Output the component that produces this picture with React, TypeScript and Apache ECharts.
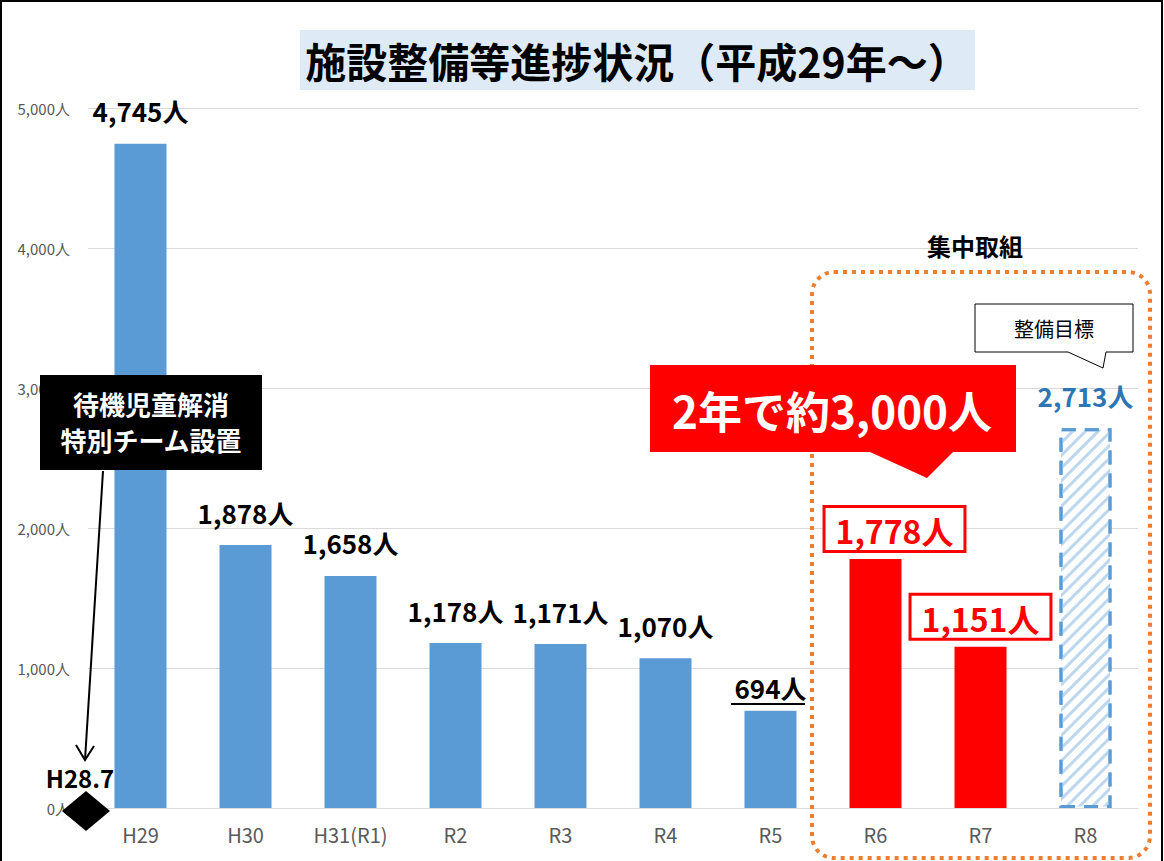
import React, { useEffect, useRef } from "react";
import * as echarts from "echarts";

const categories = ["H29", "H30", "H31(R1)", "R2", "R3", "R4", "R5", "R6", "R7", "R8"];
const values = [4745, 1878, 1658, 1178, 1171, 1070, 694, 1778, 1151, 2713];
const focusCategories = ["R6", "R7"];
const targetCategory = "R8";
const underlinedCategory = "R5";
const yTicks = { min: 0, max: 5000, interval: 1000 };
const titleText = "施設整備等進捗状況（平成29年〜）";

const FONT = "'Noto Sans CJK JP', 'Noto Sans', sans-serif";
const BLUE = "#5b9bd5";
const RED = "#ff0000";

const fmt = (v: number) => v.toLocaleString("en-US") + "人";

export default function App() {
  const ref = useRef<HTMLDivElement>(null);
  useEffect(() => {
    if (!ref.current) return;
    const chart = echarts.init(ref.current, null, { renderer: "svg" });

    const data = categories.map((c, i) => {
      const v = values[i];
      if (focusCategories.includes(c)) {
        return {
          value: v,
          itemStyle: { color: RED },
          label: {
            color: RED,
            fontSize: 32,
            fontWeight: "bold",
            backgroundColor: "#ffffff",
            borderColor: RED,
            borderWidth: 3,
            padding: [6, 10, 4, 10],
            distance: 9,
            offset: c === "R6" ? [19, 0] : [0, 0],
          },
        };
      }
      if (c === targetCategory) {
        return {
          value: v,
          itemStyle: {
            color: "#ffffff",
            borderColor: BLUE,
            borderWidth: 3,
            borderType: [14, 9],
            decal: {
              symbol: "rect",
              symbolSize: 1,
              dashArrayX: [1, 0],
              dashArrayY: [3, 6],
              rotation: -Math.PI / 4,
              color: "#bdd7ee",
              backgroundColor: "#ffffff",
            },
          },
          label: { color: "#2e75b6", distance: 20 },
        };
      }
      if (c === underlinedCategory) {
        return { value: v, itemStyle: { color: BLUE }, label: { distance: 10 } };
      }
      return { value: v, itemStyle: { color: BLUE } };
    });

    const option: any = {
      animation: false,
      backgroundColor: "#ffffff",
      textStyle: { fontFamily: FONT },
      grid: { left: 88, right: 26, top: 108, bottom: 53 },
      xAxis: {
        type: "category",
        data: categories,
        axisLine: { lineStyle: { color: "#d9d9d9", width: 1 } },
        axisTick: { show: false },
        axisLabel: { color: "#595959", fontSize: 20, margin: 16, fontFamily: FONT },
      },
      yAxis: {
        type: "value",
        min: yTicks.min,
        max: yTicks.max,
        interval: yTicks.interval,
        axisLine: { show: false },
        axisTick: { show: false },
        splitLine: { lineStyle: { color: "#d9d9d9", width: 1 } },
        axisLabel: {
          color: "#595959",
          fontSize: 15,
          margin: 18,
          fontFamily: FONT,
          formatter: (v: number) => fmt(v),
        },
      },
      series: [
        {
          type: "bar",
          data,
          barWidth: 52,
          z: 2,
          label: {
            show: true,
            position: "top",
            distance: 20,
            color: "#000000",
            fontSize: 26,
            fontWeight: "bold",
            fontFamily: FONT,
            formatter: (p: any) => fmt(p.value),
          },
        },
      ],
      graphic: [
        {
          type: "rect",
          z: 1,
          shape: { x: 1, y: 1, width: 1161, height: 870 },
          style: { fill: "none", stroke: "#000000", lineWidth: 2 },
        },
        {
          type: "rect",
          z: 100,
          shape: { x: 300, y: 30, width: 675, height: 60 },
          style: { fill: "#deebf7" },
        },
        {
          type: "text",
          z: 101,
          x: 637,
          y: 60,
          style: {
            text: titleText,
            font: `bold 41px ${FONT}`,
            fill: "#000000",
            align: "center",
            verticalAlign: "middle",
          },
        },
        {
          type: "text",
          z: 101,
          x: 975,
          y: 245,
          style: {
            text: "集中取組",
            font: `bold 24px ${FONT}`,
            fill: "#000000",
            align: "center",
            verticalAlign: "middle",
          },
        },
        {
          type: "rect",
          z: 100,
          shape: { x: 812, y: 272, width: 338, height: 586, r: 22 },
          style: { fill: "none", stroke: "#ed7d31", lineWidth: 4, lineDash: [4, 5] },
        },
        {
          type: "polygon",
          z: 100,
          shape: {
            points: [
              [975, 304],
              [1133, 304],
              [1133, 352],
              [1106, 352],
              [1103, 368],
              [1068, 352],
              [975, 352],
            ],
          },
          style: { fill: "#ffffff", stroke: "#000000", lineWidth: 1 },
        },
        {
          type: "text",
          z: 101,
          x: 1054,
          y: 328,
          style: {
            text: "整備目標",
            font: `20px ${FONT}`,
            fill: "#000000",
            align: "center",
            verticalAlign: "middle",
          },
        },
        {
          type: "polygon",
          z: 100,
          shape: {
            points: [
              [650, 365],
              [1016, 365],
              [1016, 452],
              [953, 452],
              [927, 478],
              [870, 452],
              [650, 452],
            ],
          },
          style: { fill: RED },
        },
        {
          type: "text",
          z: 101,
          x: 832,
          y: 410,
          style: {
            text: "2年で約3,000人",
            font: `bold 44px ${FONT}`,
            fill: "#ffffff",
            align: "center",
            verticalAlign: "middle",
          },
        },
        {
          type: "rect",
          z: 100,
          shape: { x: 40, y: 375, width: 222, height: 95 },
          style: { fill: "#000000" },
        },
        {
          type: "text",
          z: 101,
          x: 151,
          y: 421,
          style: {
            text: "待機児童解消\n特別チーム設置",
            font: `bold 26px ${FONT}`,
            lineHeight: 36,
            fill: "#ffffff",
            align: "center",
            verticalAlign: "middle",
          },
        },
        {
          type: "line",
          z: 100,
          shape: { x1: 103, y1: 471, x2: 85, y2: 760 },
          style: { stroke: "#000000", lineWidth: 2 },
        },
        {
          type: "polyline",
          z: 100,
          shape: {
            points: [
              [76, 745],
              [85, 760],
              [94, 746],
            ],
          },
          style: { stroke: "#000000", lineWidth: 2, fill: "none" },
        },
        {
          type: "text",
          z: 101,
          x: 80,
          y: 777,
          style: {
            text: "H28.7",
            font: `bold 24px ${FONT}`,
            fill: "#000000",
            align: "center",
            verticalAlign: "middle",
          },
        },
        {
          type: "polygon",
          z: 100,
          shape: {
            points: [
              [86, 791],
              [110, 811],
              [86, 831],
              [62, 811],
            ],
          },
          style: { fill: "#000000" },
        },
        {
          type: "line",
          z: 101,
          shape: { x1: 731, y1: 704, x2: 805, y2: 704 },
          style: { stroke: "#000000", lineWidth: 2 },
        },
      ],
    };
    chart.setOption(option);
    return () => chart.dispose();
  }, []);

  return (
    <div
      ref={ref}
      style={{ position: "fixed", left: 0, top: 0, width: 1164, height: 861 }}
    />
  );
}
